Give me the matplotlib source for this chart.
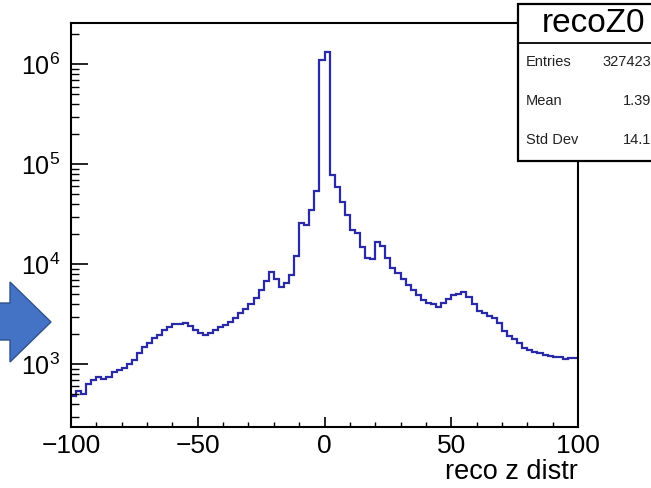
import numpy as np
import matplotlib
matplotlib.use("Agg")
import matplotlib.pyplot as plt
from matplotlib.patches import Rectangle, Polygon
from matplotlib.lines import Line2D
from matplotlib.ticker import FixedLocator, FixedFormatter, LogLocator, MultipleLocator, NullFormatter

plt.rcParams['font.family'] = ['Liberation Sans', 'DejaVu Sans']

# ---- data ----
x_min, x_max, n_bins = -100, 100, 100
counts = [
    480, 540, 500, 640, 700, 740, 720, 740, 840, 870,
    920, 1000, 1100, 1300, 1480, 1650, 1850, 1960, 2200, 2380,
    2530, 2530, 2570, 2400, 2200, 2050, 1960, 2050, 2200, 2380,
    2500, 2670, 2930, 3230, 3550, 4000, 4570, 5530, 6850, 8440,
    7080, 5970, 6450, 7810, 12100, 26100, 24700, 34900, 54500, 1100000,
    1340000, 78200, 59700, 41700, 31100, 22000, 20700, 15000, 11500, 11200,
    16800, 15200, 11500, 9120, 8130, 7080, 6250, 5530, 4930, 4400,
    4130, 4010, 3770, 4130, 4470, 4930, 5050, 5330, 4750, 4050,
    3440, 3280, 3070, 2880, 2570, 2170, 1920, 1780, 1650, 1450,
    1390, 1340, 1290, 1240, 1210, 1190, 1170, 1120, 1150, 1150,
]
x_major_ticks = [-100, -50, 0, 50, 100]
x_tick_labels = ['\u2212100', '\u221250', '0', '50', '100']
y_major_ticks = [1e3, 1e4, 1e5, 1e6]
y_tick_labels = [r'$\mathregular{10^{3}}$', r'$\mathregular{10^{4}}$',
                 r'$\mathregular{10^{5}}$', r'$\mathregular{10^{6}}$']
x_label = 'reco z distr'
stats_title = 'recoZ0'
stats_names = ['Entries', 'Mean', 'Std Dev']
stats_values = ['327423', '1.39', '14.1']

W, H = 651, 488
fig = plt.figure(figsize=(W / 100, H / 100), dpi=100)
fig.patch.set_facecolor('white')

L, R, T, B = 71, 578, 23, 427
ax = fig.add_axes([L / W, 1 - B / H, (R - L) / W, (B - T) / H])

edges = np.linspace(x_min, x_max, n_bins + 1)
ax.stairs(counts, edges, baseline=None, color='#2a2aa6', lw=1.6)

ax.set_yscale('log')
ax.set_xlim(x_min, x_max)
ax.set_ylim(236, 2.59e6)

ax.xaxis.set_major_locator(FixedLocator(x_major_ticks))
ax.xaxis.set_major_formatter(FixedFormatter(x_tick_labels))
ax.xaxis.set_minor_locator(MultipleLocator(10))
ax.yaxis.set_major_locator(FixedLocator(y_major_ticks))
ax.yaxis.set_major_formatter(FixedFormatter(y_tick_labels))
ax.yaxis.set_minor_locator(LogLocator(base=10, subs=np.arange(2, 10)))
ax.yaxis.set_minor_formatter(NullFormatter())

ax.tick_params(axis='both', which='both', direction='in', color='black')
ax.tick_params(axis='x', which='major', length=7.5, width=1.2, labelsize=19, pad=5)
ax.tick_params(axis='x', which='minor', length=3.8, width=1.0)
ax.tick_params(axis='y', which='major', length=12, width=1.2, labelsize=18, pad=8)
ax.tick_params(axis='y', which='minor', length=6, width=1.0)
ax.tick_params(top=False, right=False, which='both')

for s in ax.spines.values():
    s.set_linewidth(1.5)
    s.set_color('black')

ax.set_xlabel(x_label, loc='right', fontsize=19.5, labelpad=1)

# ---- stats box ----
bx0, by0, by1, bhdr = 518, 4, 161, 43
fig.patches.append(Rectangle((bx0 / W, 1 - by1 / H), (W + 60 - bx0) / W, (by1 - by0) / H,
                             transform=fig.transFigure, facecolor='white',
                             edgecolor='black', lw=1.6, zorder=10))
fig.lines.append(Line2D([bx0 / W, 1.1], [1 - bhdr / H, 1 - bhdr / H],
                        transform=fig.transFigure, color='black', lw=1.3, zorder=11))
fig.text(594 / W, 1 - 24 / H, stats_title, ha='center', va='center', fontsize=24, zorder=12)
for i, (nm, val) in enumerate(zip(stats_names, stats_values)):
    yy = 1 - (62 + 39 * i) / H
    fig.text(526 / W, yy, nm, ha='left', va='center', fontsize=10.5, color='#222222', zorder=12)
    fig.text(651 / W, yy, val, ha='right', va='center', fontsize=10.5, color='#222222', zorder=12)

# ---- blue arrow on the left ----
arrow_px = [(-5, 303), (10, 303), (10, 282), (51, 322), (10, 362), (10, 340), (-5, 340)]
fig.patches.append(Polygon([(x / W, 1 - y / H) for x, y in arrow_px], closed=True,
                           transform=fig.transFigure, facecolor='#4472C4',
                           edgecolor='#2F528F', lw=1.0, zorder=5))

fig.savefig('out.png', dpi=100)
